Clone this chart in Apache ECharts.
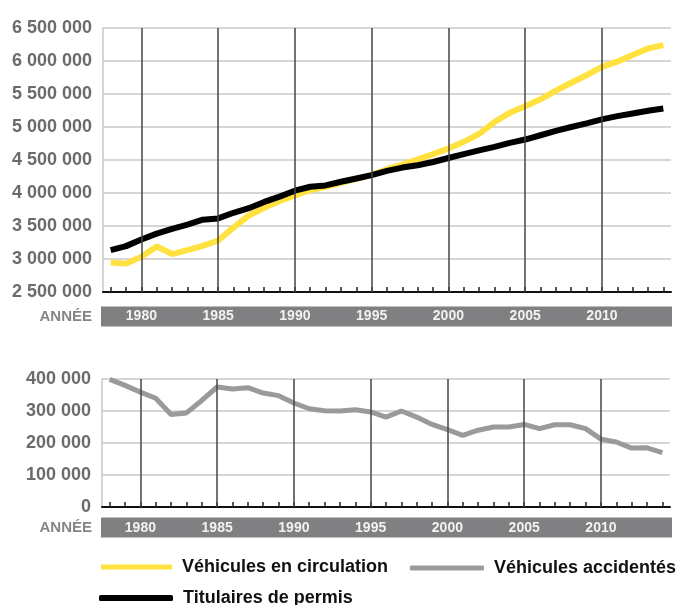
<!DOCTYPE html>
<html>
<head>
<meta charset="utf-8">
<script src="https://cdn.jsdelivr.net/npm/echarts@6/dist/echarts.min.js"></script>
<style>
html,body{margin:0;padding:0;background:#fff;}
#chart{width:678px;height:605px;}
</style>
</head>
<body>
<div id="chart"></div>
<script>
const years = ['1978','1979','1980','1981','1982','1983','1984','1985','1986','1987','1988','1989','1990','1991','1992','1993','1994','1995','1996','1997','1998','1999','2000','2001','2002','2003','2004','2005','2006','2007','2008','2009','2010','2011','2012','2013','2014'];
const markedYears = ['1980','1985','1990','1995','2000','2005','2010'];
const vehiculesCirculation = [2945000,2930000,3035000,3190000,3075000,3135000,3200000,3280000,3475000,3660000,3775000,3880000,3965000,4045000,4095000,4155000,4215000,4275000,4360000,4430000,4510000,4590000,4675000,4775000,4895000,5075000,5215000,5315000,5420000,5550000,5670000,5785000,5910000,5990000,6090000,6190000,6240000];
const titulairesPermis = [3135000,3195000,3295000,3385000,3455000,3520000,3595000,3615000,3700000,3770000,3865000,3945000,4035000,4095000,4115000,4170000,4220000,4270000,4335000,4385000,4420000,4470000,4530000,4590000,4645000,4700000,4760000,4810000,4875000,4940000,5000000,5055000,5115000,5165000,5205000,5245000,5280000];
const vehiculesAccidentes = [399000,380000,359000,340000,289000,294000,333000,375000,369000,373000,356000,348000,325000,307000,301000,300000,304000,297000,281000,300000,281000,258000,242000,224000,240000,250000,250000,258000,245000,257000,257000,245000,212000,203000,184000,185000,170000];
const topTicks = {min: 2500000, max: 6500000, interval: 500000};
const bottomTicks = {min: 0, max: 400000, interval: 100000};
const axisTitle = 'ANNÉE';
const seriesNames = ['Véhicules en circulation', 'Véhicules accidentés', 'Titulaires de permis'];

const FONT = '"Liberation Sans", Arial, sans-serif';
const fmt = v => String(v).replace(/\B(?=(\d{3})+(?!\d))/g, ' ');

const chart = echarts.init(document.getElementById('chart'), null, {renderer: 'canvas'});

function xAxisFor(gridIndex, margin) {
  return {
    type: 'category', gridIndex, data: years, boundaryGap: true,
    axisLine: {show: true, lineStyle: {color: '#111', width: 2}},
    axisTick: {show: true, inside: true, length: 5, alignWithLabel: true, interval: 0, lineStyle: {color: '#222', width: 1.5}},
    axisLabel: {
      interval: (i, v) => markedYears.indexOf(v) >= 0,
      margin, color: '#f2f2f2', fontFamily: FONT, fontWeight: 'bold', fontSize: 14
    },
    splitLine: {show: false}
  };
}
function yAxisFor(gridIndex, t, pad) {
  return {
    type: 'value', gridIndex, min: t.min, max: t.max, interval: t.interval,
    axisLine: {show: true, lineStyle: {color: '#c8c8c8', width: 1.5}},
    axisTick: {show: false},
    axisLabel: {margin: 11, color: '#6b6b6b', fontFamily: FONT, fontWeight: 'bold', fontSize: 18,
      padding: [0, 0, pad, 0], formatter: fmt},
    splitLine: {show: true, lineStyle: {color: '#c8c8c8', width: 1.5}}
  };
}
function vLines(xi, yi) {
  return {
    type: 'line', xAxisIndex: xi, yAxisIndex: yi, data: [], z: 1, silent: true,
    markLine: {
      symbol: ['none', 'none'], silent: true, animation: false,
      label: {show: false},
      lineStyle: {color: '#444', width: 1.5, type: 'solid'},
      data: markedYears.map(y => ({xAxis: y}))
    }
  };
}

const legendText = {fontFamily: FONT, fontWeight: 'bold', fontSize: 18, color: '#111', padding: [0, 0, 0, 5]};

const option = {
  animation: false,
  backgroundColor: '#fff',
  grid: [
    {left: 103, right: 7, top: 28, height: 264},
    {left: 102, right: 8, top: 379, height: 128}
  ],
  xAxis: [xAxisFor(0, 17), xAxisFor(1, 14)],
  yAxis: [yAxisFor(0, topTicks, 10), yAxisFor(1, bottomTicks, 7)],
  legend: [
    {data: [seriesNames[0]], left: 101, top: 558, padding: 0, icon: 'rect', itemWidth: 71, itemHeight: 5, textStyle: legendText, selectedMode: false},
    {data: [seriesNames[1]], left: 410, top: 559, padding: 0, icon: 'roundRect', itemWidth: 74, itemHeight: 5, textStyle: legendText, selectedMode: false},
    {data: [seriesNames[2]], left: 99, top: 589, padding: 0, icon: 'roundRect', itemWidth: 74, itemHeight: 6, textStyle: legendText, selectedMode: false}
  ],
  graphic: {elements: [
    {type: 'rect', z: -10, shape: {x: 101, y: 306.5, width: 571, height: 20}, style: {fill: '#808083'}},
    {type: 'rect', z: -10, shape: {x: 101, y: 517.5, width: 571, height: 20}, style: {fill: '#808083'}},
    {type: 'text', x: 92, y: 316.5, style: {text: axisTitle, align: 'right', verticalAlign: 'middle', fill: '#858585', font: 'bold 15px ' + FONT}},
    {type: 'text', x: 92, y: 527.5, style: {text: axisTitle, align: 'right', verticalAlign: 'middle', fill: '#858585', font: 'bold 15px ' + FONT}}
  ]},
  series: [
    vLines(0, 0),
    vLines(1, 1),
    {name: seriesNames[0], type: 'line', xAxisIndex: 0, yAxisIndex: 0, data: vehiculesCirculation, z: 3,
      showSymbol: false, symbol: 'none', color: '#ffe13f', lineStyle: {color: '#ffe13f', width: 6}},
    {name: seriesNames[2], type: 'line', xAxisIndex: 0, yAxisIndex: 0, data: titulairesPermis, z: 4,
      showSymbol: false, symbol: 'none', color: '#000', lineStyle: {color: '#000', width: 6}},
    {name: seriesNames[1], type: 'line', xAxisIndex: 1, yAxisIndex: 1, data: vehiculesAccidentes, z: 3,
      showSymbol: false, symbol: 'none', color: '#9a9a9c', lineStyle: {color: '#9a9a9c', width: 5}}
  ]
};
chart.setOption(option);
</script>
</body>
</html>
